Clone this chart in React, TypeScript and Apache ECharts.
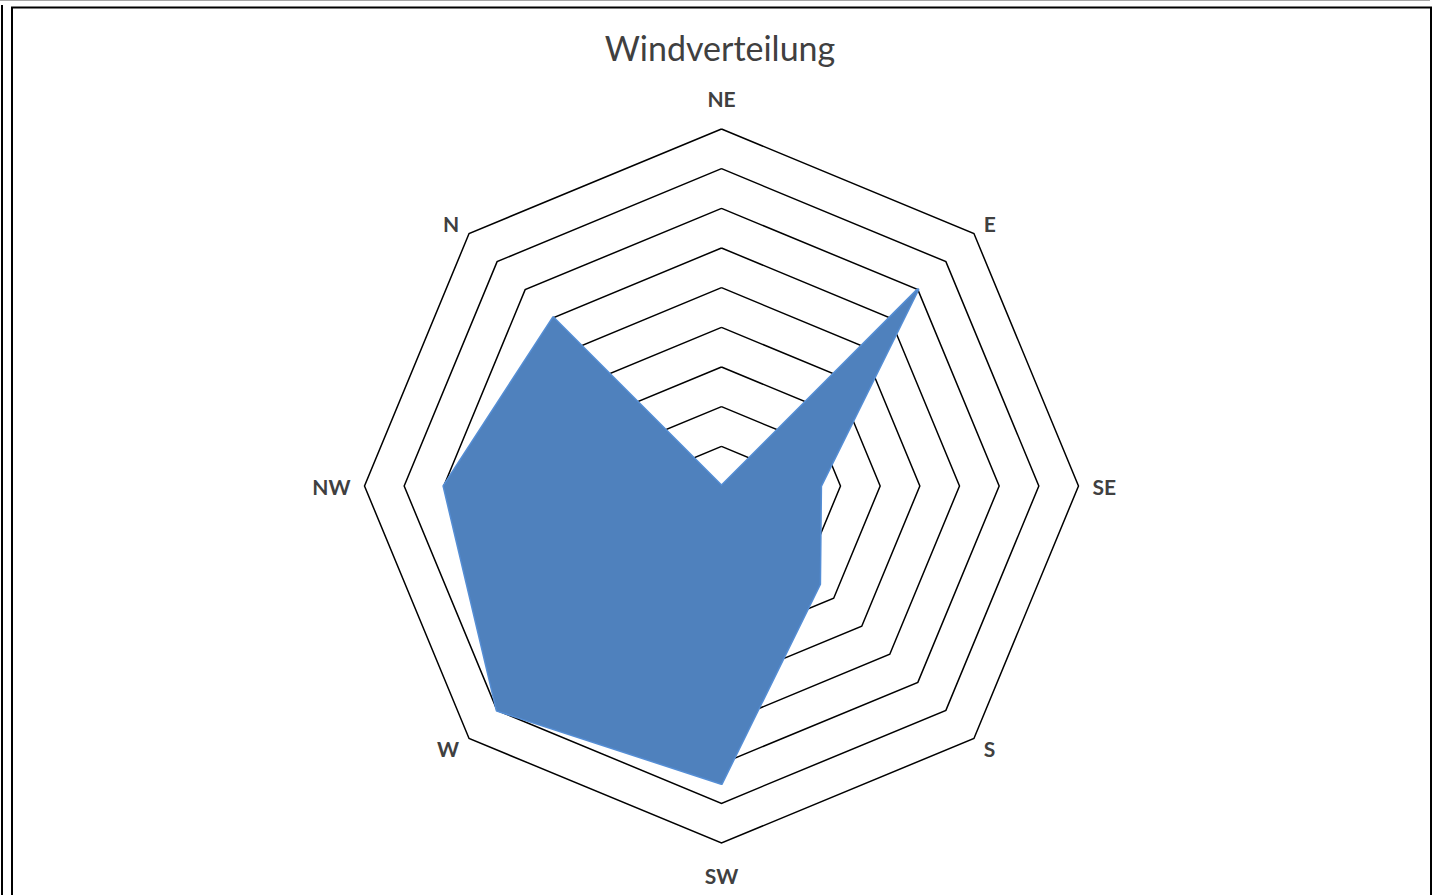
import React, { useEffect, useRef } from "react";
import * as echarts from "echarts";

// Indicators listed counter-clockwise from the top (ECharts radar order)
const directions = ["NE", "N", "NW", "W", "SW", "S", "SE", "E"];
const windValues = [0, 6, 7, 8, 7.5, 3.5, 2.5, 7];
const axisMax = 9;
const ringCount = 9;

export default function App() {
  const ref = useRef<HTMLDivElement>(null);
  useEffect(() => {
    if (!ref.current) return;
    const chart = echarts.init(ref.current, null, { renderer: "svg" });
    const labelFont = "Lato, 'Open Sans', sans-serif";
    chart.setOption({
      animation: false,
      backgroundColor: "#ffffff",
      title: {
        text: "Windverteilung",
        left: "center",
        top: 25,
        textStyle: {
          fontFamily: labelFont,
          fontSize: 34,
          fontWeight: "normal",
          color: "#404040",
        },
      },
      graphic: [
        { type: "line", shape: { x1: 0, y1: 0.5, x2: 1430, y2: 0.5 }, style: { stroke: "#a6a6a6", lineWidth: 1 } },
        { type: "line", shape: { x1: 2, y1: 5, x2: 2, y2: 900 }, style: { stroke: "#000000", lineWidth: 2 } },
        { type: "rect", shape: { x: 12, y: 7.5, width: 1419, height: 900 }, style: { fill: "none", stroke: "#000000", lineWidth: 2 } },
      ],
      radar: {
        center: [721.5, 486],
        radius: 357,
        startAngle: 90,
        shape: "polygon",
        splitNumber: ringCount,
        indicator: directions.map((d) => ({ name: d, max: axisMax, min: 0 })),
        nameGap: 14,
        axisName: {
          color: "#404040",
          fontFamily: labelFont,
          fontWeight: "bold",
          fontSize: 21,
          formatter: (name: string) =>
            name === "NE" ? `{up|${name}}` : name === "SW" ? `{down|${name}}` : name,
          rich: {
            up: {
              padding: [0, 0, 6, 0],
              color: "#404040",
              fontFamily: labelFont,
              fontWeight: "bold",
              fontSize: 21,
            },
            down: {
              padding: [8, 0, 0, 0],
              color: "#404040",
              fontFamily: labelFont,
              fontWeight: "bold",
              fontSize: 21,
            },
          },
        },
        axisLine: { show: false },
        axisTick: { show: false },
        axisLabel: { show: false },
        splitArea: { show: false },
        splitLine: { lineStyle: { color: "#000000", width: 1.5 } },
      },
      series: [
        {
          type: "radar",
          symbol: "none",
          data: [
            {
              value: windValues,
              name: "Wind",
              areaStyle: { color: "#4F81BD", opacity: 1 },
              lineStyle: { color: "#558ED5", width: 3 },
            },
          ],
        },
      ],
    });
    return () => chart.dispose();
  }, []);
  return (
    <div
      ref={ref}
      style={{ position: "absolute", left: 0, top: 0, width: 1440, height: 895 }}
    />
  );
}
